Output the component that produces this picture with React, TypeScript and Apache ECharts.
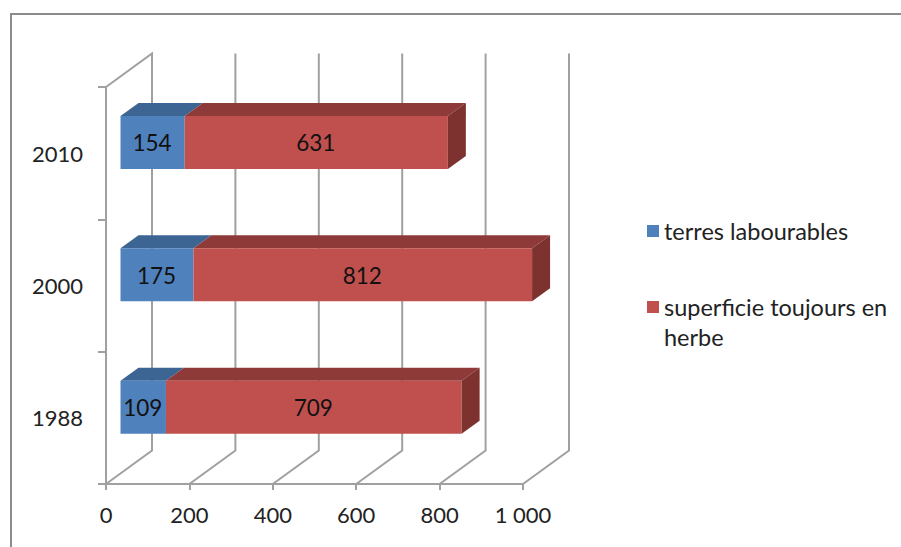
import React, { useEffect, useRef } from "react";
import * as echarts from "echarts";

const categories = ["1988", "2000", "2010"];
const arableLand = [109, 175, 154];
const permanentGrass = [709, 812, 631];
const axisTicks = [0, 200, 400, 600, 800, 1000];
const arableName = "terres labourables";
const grassName = "superficie toujours en\nherbe";

const FONT = "Lato";
const GRAY = "#a0a0a0";
const BLUE = "#4f81bd";
const RED = "#c0504d";
const DEPTH_X = 46;
const DEPTH_Y = -33.5;
const BAR_DX = 14.5;
const BAR_DY = -10.7;
const BAR_H = 53;
const BAR_DEPTH_X = 18;
const BAR_DEPTH_Y = -13;

function barRenderer(front: string, top: string, side: string | null) {
  return (_p: any, api: any) => {
    const a = api.coord([api.value(1), api.value(0)]);
    const b = api.coord([api.value(2), api.value(0)]);
    const x0 = a[0] + BAR_DX;
    const x1 = b[0] + BAR_DX;
    const y0 = a[1] + BAR_DY - BAR_H / 2;
    const y1 = y0 + BAR_H;
    const children: any[] = [
      {
        type: "polygon",
        shape: { points: [[x0, y0], [x1, y0], [x1 + BAR_DEPTH_X, y0 + BAR_DEPTH_Y], [x0 + BAR_DEPTH_X, y0 + BAR_DEPTH_Y]] },
        style: { fill: top },
      },
      { type: "rect", shape: { x: x0, y: y0, width: x1 - x0, height: BAR_H }, style: { fill: front } },
    ];
    if (side) {
      children.push({
        type: "polygon",
        shape: { points: [[x1, y0], [x1 + BAR_DEPTH_X, y0 + BAR_DEPTH_Y], [x1 + BAR_DEPTH_X, y1 + BAR_DEPTH_Y], [x1, y1]] },
        style: { fill: side },
      });
    }
    children.push({
      type: "text",
      style: {
        text: String(api.value(2) - api.value(1)),
        x: (x0 + x1) / 2 - 0.5,
        y: y0 + 27,
        align: "center",
        verticalAlign: "middle",
        font: `22.5px ${FONT}`,
        fill: "#111111",
      },
    });
    return { type: "group", children };
  };
}

function wallRenderer(params: any, api: any) {
  const tick = api.value(0);
  const sys = params.coordSys;
  const x = api.coord([tick, 0])[0];
  const bottom = sys.y + sys.height;
  const points = [
    [x, bottom],
    [x + DEPTH_X, bottom + DEPTH_Y],
    [x + DEPTH_X, sys.y + DEPTH_Y],
  ];
  if (tick === axisTicks[0]) points.push([x, sys.y]);
  return {
    type: "polyline",
    shape: { points },
    style: { fill: "none", stroke: GRAY, lineWidth: 2 },
  };
}

function legendEntry(name: string, color: string, y: number) {
  return [
    { type: "rect", silent: true, shape: { x: 647, y: y - 6, width: 12, height: 12 }, style: { fill: color } },
    {
      type: "text",
      silent: true,
      style: {
        text: name,
        x: 664,
        y: y - 15,
        verticalAlign: "top",
        lineHeight: 30,
        font: `23.5px ${FONT}`,
        fill: "#222222",
      },
    },
  ];
}

export default function App() {
  const ref = useRef<HTMLDivElement>(null);
  useEffect(() => {
    const chart = echarts.init(ref.current!, undefined, { renderer: "svg" });
    chart.setOption({
      animation: false,
      backgroundColor: "#ffffff",
      grid: { left: 106, top: 87, width: 417, height: 397 },
      xAxis: {
        type: "value",
        min: 0,
        max: 1000,
        interval: 200,
        splitLine: { show: false },
        axisLine: { show: true, lineStyle: { color: GRAY, width: 2 } },
        axisTick: { show: true, length: 6, lineStyle: { color: GRAY, width: 2 } },
        axisLabel: {
          margin: 19,
          color: "#222222",
          fontFamily: FONT,
          fontSize: 22,
          formatter: (v: number) => (v >= 1000 ? "1 000" : String(v)),
        },
      },
      yAxis: {
        type: "category",
        data: categories,
        axisLine: { show: true, onZero: false, lineStyle: { color: GRAY, width: 2 } },
        axisTick: { show: true, length: 8, lineStyle: { color: GRAY, width: 2 } },
        axisLabel: { margin: 23, color: "#222222", fontFamily: FONT, fontSize: 22 },
      },
      graphic: [
        {
          type: "polyline",
          silent: true,
          shape: { points: [[11, 547], [11, 14], [901, 14]] },
          style: { fill: "none", stroke: "#8c8c8c", lineWidth: 2 },
        },
        ...legendEntry(arableName, BLUE, 231),
        ...legendEntry(grassName, RED, 307),
      ],
      series: [
        {
          type: "custom",
          name: "walls",
          renderItem: wallRenderer,
          encode: { x: 0 },
          data: axisTicks.map((t) => [t]),
          silent: true,
          z: 1,
        },
        {
          type: "custom",
          name: arableName,
          renderItem: barRenderer(BLUE, "#3d6594", null),
          encode: { x: [1, 2], y: 0 },
          data: categories.map((_, i) => [i, 0, arableLand[i]]),
          itemStyle: { color: BLUE },
          z: 2,
        },
        {
          type: "custom",
          name: grassName,
          renderItem: barRenderer(RED, "#8e3a38", "#7e3230"),
          encode: { x: [1, 2], y: 0 },
          data: categories.map((_, i) => [i, arableLand[i], arableLand[i] + permanentGrass[i]]),
          itemStyle: { color: RED },
          z: 3,
        },
      ],
    });
    return () => chart.dispose();
  }, []);
  return <div ref={ref} style={{ position: "absolute", left: 0, top: 0, width: 901, height: 547 }} />;
}
